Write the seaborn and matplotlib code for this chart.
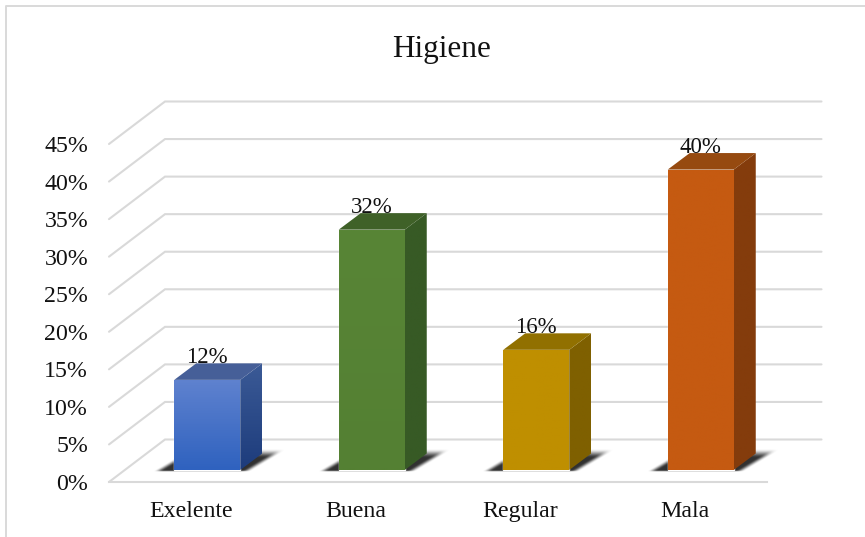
import numpy as np
import pandas as pd
import matplotlib
matplotlib.use("Agg")
import matplotlib.pyplot as plt
from matplotlib.colors import to_rgb
from matplotlib.lines import Line2D
from matplotlib.patches import Polygon
from matplotlib.transforms import ScaledTranslation
import seaborn as sns

categories = ["Exelente", "Buena", "Regular", "Mala"]
values = [12, 32, 16, 40]
y_ticks = [0, 5, 10, 15, 20, 25, 30, 35, 40, 45]
chart_title = "Higiene"

front_top = ["#5f82cf", "#588536", "#bf8f00", "#c55a11"]
front_bottom = ["#2f62bf", "#548033", "#bf8f00", "#c55a11"]
side_top = ["#3b5a96", "#375a25", "#7f6000", "#843c0c"]
side_bottom = ["#1d3c7c", "#375a25", "#7f6000", "#843c0c"]
top_faces = ["#465f98", "#3f6128", "#917000", "#964a10"]
grid_colour = "#d9d9d9"
text_colour = "#111111"

sns.set_theme(style="white")
plt.rcParams["font.family"] = ["Liberation Serif", "DejaVu Serif"]

W, H, DPI = 865, 537, 100
fig = plt.figure(figsize=(W / DPI, H / DPI), dpi=DPI, facecolor="white")
ax = fig.add_axes([109 / W, (H - 482) / H, 658 / W, 338 / H])

frame = pd.DataFrame({"category": categories, "value": values})
sns.barplot(data=frame, x="category", y="value", hue="category", palette=front_bottom,
            width=66 / 164.5, legend=False, saturation=1, ax=ax, zorder=3)

ax.set_xlim(-0.5, 3.5)
ax.set_ylim(0, 45)
ax.set_xlabel("")
ax.set_ylabel("")
ax.set_yticks(y_ticks, [f"{v}%" for v in y_ticks])
ax.tick_params(axis="y", length=0, pad=15, labelsize=17.2, labelcolor=text_colour)
ax.tick_params(axis="x", length=0, pad=13.5, labelsize=17.2, labelcolor=text_colour)
sns.despine(ax=ax, left=True)
ax.spines["bottom"].set_color(grid_colour)
ax.spines["bottom"].set_linewidth(1.5)
ax.patch.set_alpha(0)

# pixel lengths expressed in data units of this axes
px_x = 4 / 658
px_y = 45 / 338

# receding wall and floor gridlines
wall_dx, wall_dy = 56 * px_x, 42.5 * px_y
wall_end = 3.5 + 54.5 * px_x
for v in y_ticks:
    ax.plot([-0.5, -0.5 + wall_dx, wall_end], [v, v + wall_dy, v + wall_dy],
            color=grid_colour, lw=1.5, clip_on=False, zorder=1, solid_joinstyle="miter")

# bars stand a little behind the front edge of the floor
bar_shift = ax.transData + ScaledTranslation(16 / DPI, 12 / DPI, fig.dpi_scale_trans)
depth_dx, depth_dy = 22 * px_x, 16.5 * px_y


def gradient_face(verts, c_top, c_bottom, zorder):
    """Fill a polygon with a vertical two-colour gradient."""
    verts = np.asarray(verts)
    ramp = np.linspace(to_rgb(c_top), to_rgb(c_bottom), 64)[:, None, :]
    clip = Polygon(verts, closed=True, transform=bar_shift, facecolor="none", edgecolor="none")
    ax.add_patch(clip)
    x0, x1, y0, y1 = verts[:, 0].min(), verts[:, 0].max(), verts[:, 1].min(), verts[:, 1].max()
    im = ax.imshow(ramp, extent=(x0, x1, y0, y1), origin="upper", aspect="auto",
                   zorder=zorder, interpolation="bilinear", transform=bar_shift)
    im.set_clip_path(clip)


def smooth(t):
    t = np.clip(t, 0, 1)
    return t * t * (3 - 2 * t)


def floor_shadow(x0, width_px):
    """Blurred sheared shadow cast on the floor, anchored at the bar's front-left corner."""
    xs = np.arange(-24, width_px + 60, 0.5)
    ys = np.arange(-3, 24, 0.5)
    gx, gy = np.meshgrid(xs, ys)
    u = gx - 1.68 * gy
    alpha = (smooth((u + 19) / 10) * smooth((width_px + 13 - u) / 10)
             * smooth((gy + 2) / 1.5) * smooth((21 - gy) / 9)) * 0.95
    rgba = np.zeros(gx.shape + (4,))
    rgba[..., :3] = 0.15
    rgba[..., 3] = alpha
    ax.imshow(rgba, origin="lower", aspect="auto", interpolation="bilinear", zorder=2,
              extent=(x0 + xs[0] * px_x, x0 + xs[-1] * px_x, ys[0] * px_y, ys[-1] * px_y),
              transform=bar_shift, clip_on=False)


for i, bar in enumerate(ax.patches[:len(categories)]):
    x0 = bar.get_x()
    x1 = x0 + bar.get_width()
    v = bar.get_height()
    bar.set_transform(bar_shift)
    bar.set_clip_on(False)

    floor_shadow(x0, bar.get_width() / px_x)

    gradient_face([(x0, 0), (x1, 0), (x1, v), (x0, v)], front_top[i], front_bottom[i], 3.1)
    gradient_face([(x1, 0), (x1 + depth_dx, depth_dy), (x1 + depth_dx, v + depth_dy), (x1, v)],
                  side_top[i], side_bottom[i], 3.1)
    ax.add_patch(Polygon([(x0, v), (x1, v), (x1 + depth_dx, v + depth_dy), (x0 + depth_dx, v + depth_dy)],
                         closed=True, transform=bar_shift, facecolor=top_faces[i],
                         edgecolor="none", zorder=3.1, clip_on=False))

    ax.text((x0 + x1) / 2, v + depth_dy, f"{values[i]}%", transform=bar_shift, ha="center",
            va="baseline", fontsize=16.5, color=text_colour, zorder=5, clip_on=False)

ax.set_xlim(-0.5, 3.5)
ax.set_ylim(0, 45)

fig.text(441.5 / W, 1 - 50 / H, chart_title, ha="center", va="center", fontsize=22.5, color=text_colour)

# chart area outline: only the top and left edges fall inside the canvas
fig.add_artist(Line2D([6 / W, 6 / W, 1], [0, 1 - 5.5 / H, 1 - 5.5 / H], color=grid_colour, lw=1.4,
                      transform=fig.transFigure))

fig.savefig("out.png", dpi=DPI, facecolor="white")
